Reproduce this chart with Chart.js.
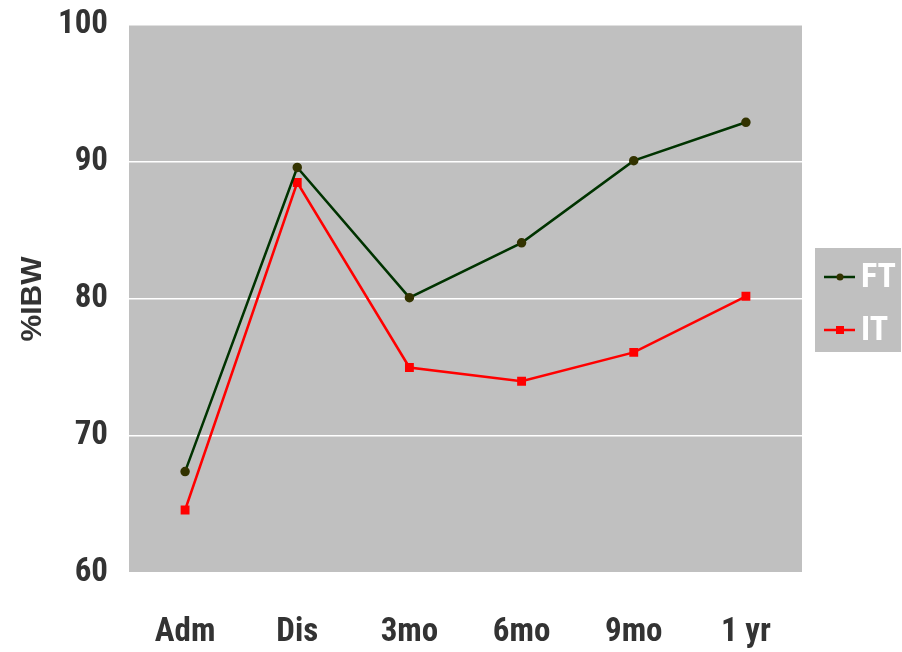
<!DOCTYPE html>
<html>
<head>
<meta charset="utf-8">
<script src="https://cdn.jsdelivr.net/npm/chart.js@4.4.1/dist/chart.umd.min.js"></script>
<style>
  html, body { margin: 0; padding: 0; background: #ffffff; }
  #wrap { position: relative; width: 902px; height: 652px; }
</style>
</head>
<body>
<div id="wrap"><canvas id="chart"></canvas></div>
<script>
"use strict";

// Data
var categories = ['Adm', 'Dis', '3mo', '6mo', '9mo', '1 yr'];
var ftValues = [67.4, 89.6, 80.1, 84.1, 90.1, 92.9];
var itValues = [64.6, 88.5, 75.0, 74.0, 76.1, 80.2];
var yTicks = [60, 70, 80, 90, 100];

var tickFont = '"Roboto Condensed", "Open Sans Condensed", "Liberation Sans", Arial, sans-serif';
var titleFont = '"Liberation Sans", Arial, sans-serif';
var plotGray = '#c0c0c0';

// gray plot background
var plotBackground = {
    id: 'plotBackground',
    beforeDraw: function (chart) {
        var a = chart.chartArea;
        var ctx = chart.ctx;
        ctx.save();
        ctx.fillStyle = plotGray;
        ctx.fillRect(a.left, a.top, a.right - a.left, a.bottom - a.top);
        ctx.restore();
    }
};

// legend box on the right, drawn from the dataset styles
var sideLegend = {
    id: 'sideLegend',
    afterDraw: function (chart) {
        var ctx = chart.ctx;
        var x = 815, y = 248, w = 86, h = 104;
        ctx.save();
        ctx.fillStyle = plotGray;
        ctx.fillRect(x, y, w, h);
        chart.data.datasets.forEach(function (ds, i) {
            var cy = y + 29 + i * 53;
            ctx.strokeStyle = ds.borderColor;
            ctx.lineWidth = 2.5;
            ctx.beginPath();
            ctx.moveTo(x + 9, cy);
            ctx.lineTo(x + 40, cy);
            ctx.stroke();
            ctx.fillStyle = ds.pointBackgroundColor;
            if (ds.pointStyle === 'rect') {
                ctx.fillRect(x + 21, cy - 4, 8, 8);
            } else {
                ctx.beginPath();
                ctx.arc(x + 25, cy, 3.5, 0, Math.PI * 2);
                ctx.fill();
            }
            ctx.fillStyle = '#ffffff';
            ctx.font = 'bold 34px ' + tickFont;
            ctx.textBaseline = 'middle';
            ctx.textAlign = 'left';
            ctx.fillText(ds.label, x + 46, cy + 1);
        });
        ctx.restore();
    }
};

var config = {
    type: 'line',
    data: {
        labels: categories,
        datasets: [
            {
                label: 'FT',
                data: ftValues,
                borderColor: '#003300',
                backgroundColor: '#333300',
                pointBackgroundColor: '#333300',
                pointBorderColor: '#333300',
                pointStyle: 'circle',
                pointRadius: 3.5,
                borderWidth: 2.5,
                tension: 0
            },
            {
                label: 'IT',
                data: itValues,
                borderColor: '#ff0000',
                backgroundColor: '#ff0000',
                pointBackgroundColor: '#ff0000',
                pointBorderColor: '#ff0000',
                pointStyle: 'rect',
                pointRadius: 4.5,
                borderWidth: 2.5,
                tension: 0
            }
        ]
    },
    options: {
        responsive: true,
        maintainAspectRatio: false,
        animation: false,
        layout: {
            padding: { top: 25, right: 100, left: 0, bottom: 0 }
        },
        plugins: {
            legend: { display: false },
            tooltip: { enabled: false }
        },
        scales: {
            x: {
                offset: true,
                grid: { display: false, drawTicks: false },
                border: { display: false },
                afterFit: function (axis) { axis.height = 79; },
                ticks: {
                    color: '#333333',
                    padding: 40,
                    font: { family: tickFont, size: 33, weight: 'bold' }
                }
            },
            y: {
                min: 60,
                max: 100,
                afterBuildTicks: function (axis) {
                    axis.ticks = yTicks.map(function (v) { return { value: v }; });
                },
                afterFit: function (axis) {
                    axis.width = 129;
                    axis.paddingTop = 0;
                },
                grid: { color: '#ffffff', lineWidth: 1.5, drawTicks: false },
                border: { display: false },
                ticks: {
                    color: '#333333',
                    padding: 21,
                    font: { family: tickFont, size: 33, weight: 'bold' }
                },
                title: {
                    display: true,
                    text: '%IBW',
                    color: '#333333',
                    padding: { top: 15, bottom: 0 },
                    font: { family: titleFont, size: 30, weight: 'bold' }
                }
            }
        }
    },
    plugins: [plotBackground, sideLegend]
};

new Chart(document.getElementById('chart').getContext('2d'), config);
</script>
</body>
</html>
